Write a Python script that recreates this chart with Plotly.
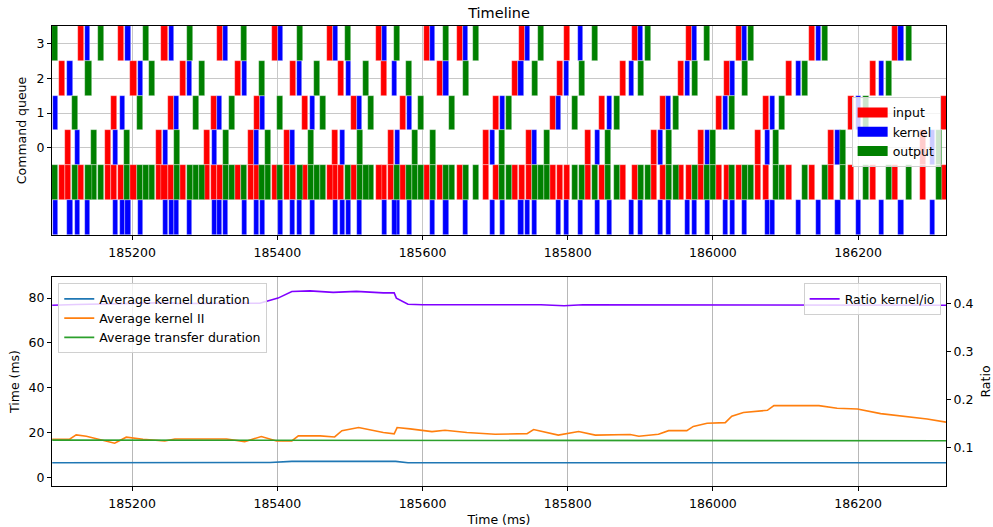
import plotly.graph_objects as go

# ---------------- data: timeline (start times in ms) ----------------
QUEUES = [0, 1, 2, 3]
INPUT_MS = 8.3
KERNEL_MS = 7.0
OUTPUT_MS = 8.3

q0_input = [185107.7, 185163.3, 185232.3, 185299.3, 185359.1, 185409.1, 185474.8, 185552.0,
            185683.9, 185742.3, 185824.1, 185914.6, 185979.4, 186058.4, 186158.6, 186285.0]
q0_kernel = [185121.1, 185173.4, 185241.9, 185309.5, 185368.3, 185417.4, 185486.3, 185562.1,
             185693.1, 185750.6, 185837.9, 185924.3, 185988.6, 186072.2, 186168.7, 186298.7]
q0_output = [185143.6, 185189.1, 185258.0, 185324.6, 185383.4, 185441.7, 185509.3, 185586.0,
             185610.4, 185705.5, 185766.7, 185850.7, 185935.3, 185996.4, 186082.3, 186175.6, 186306.6]

q1_input = [185171.1, 185249.3, 185308.1, 185367.3, 185434.4, 185501.9, 185569.0, 185696.8,
            185774.9, 185842.5, 185926.6, 186004.7, 186069.0, 186185.7, 186314.3]
q1_kernel = [185091.3, 185183.1, 185258.0, 185317.3, 185376.1, 185444.5, 185510.2, 185578.2,
             185706.9, 185783.7, 185854.0, 185934.8, 186013.4, 186078.6, 186197.6]
q1_output = [185116.9, 185206.1, 185283.3, 185333.3, 185399.5, 185458.7, 185525.4, 185593.4,
             185636.1, 185715.2, 185805.7, 185864.1, 185945.0, 186022.6, 186091.0, 186206.8]

q2_input = [185099.0, 185197.8, 185266.3, 185342.1, 185417.4, 185483.6, 185542.4, 185619.6,
            185723.0, 185785.0, 185871.4, 185952.3, 186014.8, 186101.1, 186216.0]
q2_kernel = [185111.0, 185208.4, 185275.5, 185351.7, 185427.5, 185494.1, 185557.5, 185628.8,
             185732.2, 185794.2, 185883.8, 185962.0, 186024.0, 186114.0, 186228.9]
q2_output = [185135.8, 185223.5, 185291.5, 185375.2, 185450.9, 185517.6, 185577.3, 185655.4,
             185750.6, 185814.9, 185896.2, 185971.6, 186040.1, 186123.2, 186238.0]

q3_input = [185126.1, 185180.8, 185240.5, 185316.3, 185392.2, 185467.9, 185535.5, 185602.6,
            185647.1, 185733.1, 185794.2, 185888.0, 185962.9, 186031.8, 186131.9, 186246.8]
q3_kernel = [185135.3, 185190.9, 185251.1, 185324.6, 185401.4, 185477.1, 185543.8, 185610.8,
             185655.4, 185741.4, 185813.5, 185896.7, 185971.1, 186040.1, 186142.5, 186255.5]
q3_output = [185090.0, 185152.8, 185215.3, 185275.0, 185349.4, 185426.6, 185493.2, 185560.8,
             185627.8, 185669.2, 185759.3, 185833.7, 185905.9, 185988.1, 186048.7, 186150.3, 186266.1]

ALL_IO_ROW = -1
ALL_KERNEL_ROW = -2

# ---------------- data: statistics ----------------
kernel_dur_t = [185090, 185390, 185420, 185563, 185580, 186321]
kernel_dur_v = [6.5, 6.6, 7.1, 7.1, 6.5, 6.5]

transfer_t = [185090, 185400, 185700, 186000, 186321]
transfer_v = [16.6, 16.5, 16.4, 16.35, 16.3]

kernel_ii_t = [185090, 185114, 185123, 185137, 185176, 185192, 185215, 185245, 185259, 185330,
               185355, 185378, 185399, 185420, 185429, 185459, 185479, 185489, 185512, 185546,
               185561, 185565, 185583, 185613, 185631, 185661, 185700, 185744, 185753, 185787,
               185815, 185838, 185886, 185898, 185925, 185939, 185964, 185973, 185992, 186017,
               186026, 186042, 186075, 186084, 186146, 186171, 186199, 186231, 186295, 186321]
kernel_ii_v = [17.0, 17.0, 18.9, 18.3, 15.2, 17.9, 17.0, 16.2, 17.1, 17.1,
               15.9, 18.2, 16.2, 16.2, 18.5, 18.5, 18.0, 20.8, 22.2, 20.0,
               19.4, 22.2, 21.6, 20.4, 21.0, 20.0, 19.2, 19.5, 21.3, 18.8,
               20.4, 18.8, 19.1, 18.3, 19.2, 20.8, 20.8, 22.7, 24.1, 24.4,
               27.3, 28.9, 29.9, 32.0, 32.0, 30.8, 30.5, 28.4, 26.0, 24.6]

ratio_t = [185090, 185123, 185252, 185262, 185376, 185401, 185420, 185445, 185477, 185509,
           185546, 185561, 185564, 185580, 185600, 185707, 185763, 185795, 185821, 186321]
ratio_v = [0.397, 0.3987, 0.4025, 0.4007, 0.4014, 0.412, 0.4257, 0.427, 0.424, 0.426,
           0.423, 0.423, 0.412, 0.3993, 0.398, 0.397, 0.398, 0.396, 0.398, 0.397]

X_RANGE = [185089.7, 186321.0]
X_TICKS = [185200, 185400, 185600, 185800, 186000, 186200]
Y_TICKS_TOP = [0, 1, 2, 3]
Y_TICKS_TIME = [0, 20, 40, 60, 80]
Y_TICKS_RATIO = [0.1, 0.2, 0.3, 0.4]

# ---------------- build bar data ----------------
queues_in = [q0_input, q1_input, q2_input, q3_input]
queues_k = [q0_kernel, q1_kernel, q2_kernel, q3_kernel]
queues_out = [q0_output, q1_output, q2_output, q3_output]


def bar_lists(per_queue, agg_row):
    base, ys = [], []
    for q, starts in zip(QUEUES, per_queue):
        base += starts
        ys += [q] * len(starts)
    for starts in per_queue:
        base += starts
        ys += [agg_row] * len(starts)
    return base, ys


FONT = "DejaVu Sans"
FS = 12.5
edge = dict(color="rgba(255,255,255,0.55)", width=0.6)

fig = go.Figure()
for name, per_q, dur, color, row in [
    ("input", queues_in, INPUT_MS, "#ff0000", ALL_IO_ROW),
    ("kernel", queues_k, KERNEL_MS, "#0000ff", ALL_KERNEL_ROW),
    ("output", queues_out, OUTPUT_MS, "#008000", ALL_IO_ROW),
]:
    base, ys = bar_lists(per_q, row)
    fig.add_trace(go.Bar(
        orientation="h", base=base, x=[dur] * len(base), y=ys, width=1.0,
        marker=dict(color=color, line=edge), name=name, legendgroup=name,
        xaxis="x", yaxis="y", showlegend=False,
    ))
    # legend patch (wide rectangle like the original legend handles)
    fig.add_trace(go.Scatter(
        x=[None], y=[None], mode="lines", line=dict(color=color, width=10),
        name=name, legendgroup=name, xaxis="x", yaxis="y", legend="legend",
    ))

fig.add_trace(go.Scatter(x=kernel_dur_t, y=kernel_dur_v, mode="lines",
                         line=dict(color="#1f77b4", width=1.6),
                         name="Average kernel duration", xaxis="x2", yaxis="y2", legend="legend2"))
fig.add_trace(go.Scatter(x=kernel_ii_t, y=kernel_ii_v, mode="lines",
                         line=dict(color="#ff7f0e", width=1.6),
                         name="Average kernel II", xaxis="x2", yaxis="y2", legend="legend2"))
fig.add_trace(go.Scatter(x=transfer_t, y=transfer_v, mode="lines",
                         line=dict(color="#2ca02c", width=1.6),
                         name="Average transfer duration", xaxis="x2", yaxis="y2", legend="legend2"))
fig.add_trace(go.Scatter(x=ratio_t, y=ratio_v, mode="lines",
                         line=dict(color="#8000ff", width=1.6),
                         name="Ratio kernel/io", xaxis="x2", yaxis="y3", legend="legend3"))

axis_common = dict(showline=True, linecolor="black", linewidth=1,
                   ticks="outside", ticklen=4, tickwidth=1, tickcolor="black",
                   zeroline=False, automargin=False,
                   tickfont=dict(family=FONT, size=FS, color="black"))
title_font = dict(family=FONT, size=FS, color="black")

legend_common = dict(bgcolor="rgba(255,255,255,0.8)", bordercolor="#d0d0d0", borderwidth=1,
                     font=dict(family=FONT, size=FS, color="black"), tracegroupgap=0)

fig.update_layout(
    template="none",
    width=993, height=527,
    margin=dict(l=52, r=47, t=26, b=41),
    paper_bgcolor="white", plot_bgcolor="white",
    barmode="overlay", bargap=0,
    font=dict(family=FONT, size=FS, color="black"),
    title=dict(text="Timeline", x=0.5, xref="paper", y=1 - 13 / 527, yref="container",
               xanchor="center", yanchor="middle", font=dict(family=FONT, size=14.5, color="black")),
    xaxis=dict(domain=[0, 1], anchor="y", range=X_RANGE, tickvals=X_TICKS,
               ticktext=[str(t) for t in X_TICKS], mirror=True, ticklabelstandoff=2,
               showgrid=True, gridcolor="#c8c8c8", gridwidth=0.8, **axis_common),
    yaxis=dict(domain=[0.5457, 1], anchor="x", range=[-2.5, 3.5], tickvals=Y_TICKS_TOP,
               ticktext=[str(t) for t in Y_TICKS_TOP], mirror=True,
               showgrid=True, gridcolor="#c8c8c8", gridwidth=0.8,
               title=dict(text="Command queue", standoff=7, font=title_font),
               **axis_common),
    xaxis2=dict(domain=[0, 1], anchor="y2", range=X_RANGE, tickvals=X_TICKS,
                ticktext=[str(t) for t in X_TICKS], mirror=True, ticklabelstandoff=2,
                showgrid=True, gridcolor="#b8b8b8", gridwidth=0.8,
                title=dict(text="Time (ms)", standoff=5, font=title_font),
                **axis_common),
    yaxis2=dict(domain=[0, 0.4543], anchor="x2", range=[-3.9, 89.4], tickvals=Y_TICKS_TIME,
                ticktext=[str(t) for t in Y_TICKS_TIME], mirror=True,
                showgrid=False,
                title=dict(text="Time (ms)", standoff=6, font=title_font),
                **axis_common),
    yaxis3=dict(overlaying="y2", side="right", anchor="x2", range=[0.02, 0.456],
                tickvals=Y_TICKS_RATIO, ticktext=[str(t) for t in Y_TICKS_RATIO], showgrid=False,
                title=dict(text="Ratio", standoff=10, font=title_font),
                **axis_common),
    legend=dict(x=0.994, xanchor="right", y=0.846, yanchor="top", **legend_common),
    legend2=dict(x=0.007, xanchor="left", y=0.4407, yanchor="top", **legend_common),
    legend3=dict(x=0.994, xanchor="right", y=0.4407, yanchor="top", **legend_common),
    showlegend=True,
)

fig.write_html("out.html")
